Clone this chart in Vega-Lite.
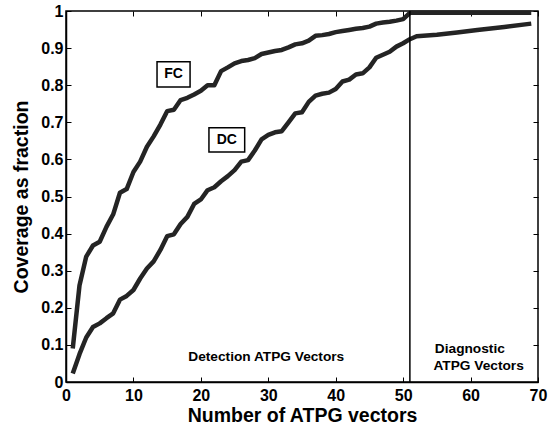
{
  "$schema": "https://vega.github.io/schema/vega-lite/v6.json",
  "width": 472,
  "height": 371,
  "autosize": "none",
  "padding": {"left": 66, "top": 11, "right": 11, "bottom": 47},
  "background": "white",
  "config": {
    "view": {"stroke": "#000000", "strokeWidth": 1.5},
    "axis": {
      "labelFont": "Liberation Sans",
      "labelFontWeight": "bold",
      "labelFontSize": 16,
      "labelColor": "#000000",
      "titleFont": "Liberation Sans",
      "titleFontWeight": "bold",
      "titleFontSize": 19.5,
      "titleColor": "#000000",
      "domainColor": "#000000",
      "domainWidth": 1.5,
      "tickColor": "#000000",
      "tickSize": -5,
      "tickWidth": 1,
      "grid": false
    }
  },
  "datasets": {
    "curves": [
      {"series": "FC", "n": 1, "cov": 0.09}, {"series": "FC", "n": 2, "cov": 0.26}, {"series": "FC", "n": 3, "cov": 0.338},
      {"series": "FC", "n": 4, "cov": 0.368}, {"series": "FC", "n": 5, "cov": 0.378}, {"series": "FC", "n": 6, "cov": 0.418},
      {"series": "FC", "n": 7, "cov": 0.452}, {"series": "FC", "n": 8, "cov": 0.51}, {"series": "FC", "n": 9, "cov": 0.52},
      {"series": "FC", "n": 10, "cov": 0.566}, {"series": "FC", "n": 11, "cov": 0.594}, {"series": "FC", "n": 12, "cov": 0.634},
      {"series": "FC", "n": 13, "cov": 0.662}, {"series": "FC", "n": 14, "cov": 0.694}, {"series": "FC", "n": 15, "cov": 0.73},
      {"series": "FC", "n": 16, "cov": 0.734}, {"series": "FC", "n": 17, "cov": 0.76}, {"series": "FC", "n": 18, "cov": 0.766},
      {"series": "FC", "n": 19, "cov": 0.775}, {"series": "FC", "n": 20, "cov": 0.785}, {"series": "FC", "n": 21, "cov": 0.8},
      {"series": "FC", "n": 22, "cov": 0.8}, {"series": "FC", "n": 23, "cov": 0.838}, {"series": "FC", "n": 24, "cov": 0.848},
      {"series": "FC", "n": 25, "cov": 0.859}, {"series": "FC", "n": 26, "cov": 0.865}, {"series": "FC", "n": 27, "cov": 0.868},
      {"series": "FC", "n": 28, "cov": 0.873}, {"series": "FC", "n": 29, "cov": 0.884}, {"series": "FC", "n": 30, "cov": 0.888},
      {"series": "FC", "n": 31, "cov": 0.892}, {"series": "FC", "n": 32, "cov": 0.895}, {"series": "FC", "n": 33, "cov": 0.902},
      {"series": "FC", "n": 34, "cov": 0.91}, {"series": "FC", "n": 35, "cov": 0.913}, {"series": "FC", "n": 36, "cov": 0.92},
      {"series": "FC", "n": 37, "cov": 0.933}, {"series": "FC", "n": 38, "cov": 0.935}, {"series": "FC", "n": 39, "cov": 0.938},
      {"series": "FC", "n": 40, "cov": 0.943}, {"series": "FC", "n": 41, "cov": 0.946}, {"series": "FC", "n": 42, "cov": 0.949},
      {"series": "FC", "n": 43, "cov": 0.952}, {"series": "FC", "n": 44, "cov": 0.954}, {"series": "FC", "n": 45, "cov": 0.958},
      {"series": "FC", "n": 46, "cov": 0.966}, {"series": "FC", "n": 47, "cov": 0.969}, {"series": "FC", "n": 48, "cov": 0.971},
      {"series": "FC", "n": 49, "cov": 0.974}, {"series": "FC", "n": 50, "cov": 0.978}, {"series": "FC", "n": 51, "cov": 0.995},
      {"series": "FC", "n": 69, "cov": 0.995},
      {"series": "DC", "n": 1, "cov": 0.023}, {"series": "DC", "n": 2, "cov": 0.075}, {"series": "DC", "n": 3, "cov": 0.12},
      {"series": "DC", "n": 4, "cov": 0.148}, {"series": "DC", "n": 5, "cov": 0.158}, {"series": "DC", "n": 6, "cov": 0.172},
      {"series": "DC", "n": 7, "cov": 0.185}, {"series": "DC", "n": 8, "cov": 0.222}, {"series": "DC", "n": 9, "cov": 0.232},
      {"series": "DC", "n": 10, "cov": 0.248}, {"series": "DC", "n": 11, "cov": 0.279}, {"series": "DC", "n": 12, "cov": 0.306},
      {"series": "DC", "n": 13, "cov": 0.325}, {"series": "DC", "n": 14, "cov": 0.356}, {"series": "DC", "n": 15, "cov": 0.393},
      {"series": "DC", "n": 16, "cov": 0.398}, {"series": "DC", "n": 17, "cov": 0.426}, {"series": "DC", "n": 18, "cov": 0.445},
      {"series": "DC", "n": 19, "cov": 0.48}, {"series": "DC", "n": 20, "cov": 0.492}, {"series": "DC", "n": 21, "cov": 0.517},
      {"series": "DC", "n": 22, "cov": 0.525}, {"series": "DC", "n": 23, "cov": 0.541}, {"series": "DC", "n": 24, "cov": 0.555},
      {"series": "DC", "n": 25, "cov": 0.571}, {"series": "DC", "n": 26, "cov": 0.594}, {"series": "DC", "n": 27, "cov": 0.598},
      {"series": "DC", "n": 28, "cov": 0.624}, {"series": "DC", "n": 29, "cov": 0.654}, {"series": "DC", "n": 30, "cov": 0.666},
      {"series": "DC", "n": 31, "cov": 0.673}, {"series": "DC", "n": 32, "cov": 0.676}, {"series": "DC", "n": 33, "cov": 0.7},
      {"series": "DC", "n": 34, "cov": 0.724}, {"series": "DC", "n": 35, "cov": 0.727}, {"series": "DC", "n": 36, "cov": 0.755},
      {"series": "DC", "n": 37, "cov": 0.772}, {"series": "DC", "n": 38, "cov": 0.777}, {"series": "DC", "n": 39, "cov": 0.78},
      {"series": "DC", "n": 40, "cov": 0.79}, {"series": "DC", "n": 41, "cov": 0.81}, {"series": "DC", "n": 42, "cov": 0.815},
      {"series": "DC", "n": 43, "cov": 0.829}, {"series": "DC", "n": 44, "cov": 0.832}, {"series": "DC", "n": 45, "cov": 0.848},
      {"series": "DC", "n": 46, "cov": 0.874}, {"series": "DC", "n": 47, "cov": 0.882}, {"series": "DC", "n": 48, "cov": 0.89},
      {"series": "DC", "n": 49, "cov": 0.904}, {"series": "DC", "n": 50, "cov": 0.913}, {"series": "DC", "n": 51, "cov": 0.924},
      {"series": "DC", "n": 52, "cov": 0.932}, {"series": "DC", "n": 55, "cov": 0.936}, {"series": "DC", "n": 58, "cov": 0.942},
      {"series": "DC", "n": 61, "cov": 0.949}, {"series": "DC", "n": 65, "cov": 0.957}, {"series": "DC", "n": 69, "cov": 0.966}
    ],
    "boxes": [
      {"label": "FC", "x1": 13.5, "x2": 18.4, "y1": 0.795, "y2": 0.863, "cx": 15.95, "cy": 0.829},
      {"label": "DC", "x1": 21.2, "x2": 26.5, "y1": 0.62, "y2": 0.685, "cx": 23.85, "cy": 0.652}
    ],
    "centerNotes": [
      {"text": "Detection ATPG Vectors", "x": 29.7, "y": 0.067}
    ],
    "leftNotes": [
      {"text": "Diagnostic", "x": 54.7, "y": 0.089},
      {"text": "ATPG Vectors", "x": 54.5, "y": 0.043}
    ]
  },
  "layer": [
    {
      "data": {"name": "curves"},
      "mark": {"type": "line", "color": "#242424", "strokeWidth": 4.5, "strokeJoin": "round", "strokeCap": "butt"},
      "encoding": {
        "x": {"field": "n", "type": "quantitative", "scale": {"domain": [0, 70], "nice": false},
              "axis": {"title": "Number of ATPG vectors", "values": [0, 10, 20, 30, 40, 50, 60, 70], "labelPadding": 10, "titlePadding": 3, "labelFlush": false}},
        "y": {"field": "cov", "type": "quantitative", "scale": {"domain": [0, 1], "nice": false},
              "axis": {"title": "Coverage as fraction", "values": [0, 0.1, 0.2, 0.3, 0.4, 0.5, 0.6, 0.7, 0.8, 0.9, 1], "format": "~g", "labelPadding": 8, "titlePadding": 9, "labelFlush": false}},
        "detail": {"field": "series"}
      }
    },
    {
      "data": {"name": "boxes"},
      "mark": {"type": "rect", "fill": "white", "stroke": "#000000", "strokeWidth": 1.5},
      "encoding": {
        "x": {"field": "x1", "type": "quantitative", "axis": {"orient": "top", "labels": false, "title": null, "domain": false, "values": [0, 10, 20, 30, 40, 50, 60, 70]}},
        "x2": {"field": "x2"},
        "y": {"field": "y1", "type": "quantitative", "axis": {"orient": "right", "labels": false, "title": null, "domain": false, "values": [0, 0.1, 0.2, 0.3, 0.4, 0.5, 0.6, 0.7, 0.8, 0.9, 1]}},
        "y2": {"field": "y2"}
      }
    },
    {
      "data": {"name": "boxes"},
      "mark": {"type": "text", "font": "Liberation Sans", "fontWeight": "bold", "fontSize": 14, "color": "#000000", "align": "center", "baseline": "middle"},
      "encoding": {
        "x": {"field": "cx", "type": "quantitative", "axis": null},
        "y": {"field": "cy", "type": "quantitative", "axis": null},
        "text": {"field": "label"}
      }
    },
    {
      "data": {"values": [{"n": 51}]},
      "mark": {"type": "rule", "color": "#000000", "strokeWidth": 1.5},
      "encoding": {
        "x": {"field": "n", "type": "quantitative", "axis": null}
      }
    },
    {
      "data": {"name": "centerNotes"},
      "mark": {"type": "text", "font": "Liberation Sans", "fontWeight": "bold", "fontSize": 13.7, "color": "#000000", "baseline": "middle", "align": "center"},
      "encoding": {
        "x": {"field": "x", "type": "quantitative", "axis": null},
        "y": {"field": "y", "type": "quantitative", "axis": null},
        "text": {"field": "text"}
      }
    },
    {
      "data": {"name": "leftNotes"},
      "mark": {"type": "text", "font": "Liberation Sans", "fontWeight": "bold", "fontSize": 13.7, "color": "#000000", "baseline": "middle", "align": "left"},
      "encoding": {
        "x": {"field": "x", "type": "quantitative", "axis": null},
        "y": {"field": "y", "type": "quantitative", "axis": null},
        "text": {"field": "text"}
      }
    }
  ],
  "resolve": {"axis": {"x": "independent", "y": "independent"}}
}
